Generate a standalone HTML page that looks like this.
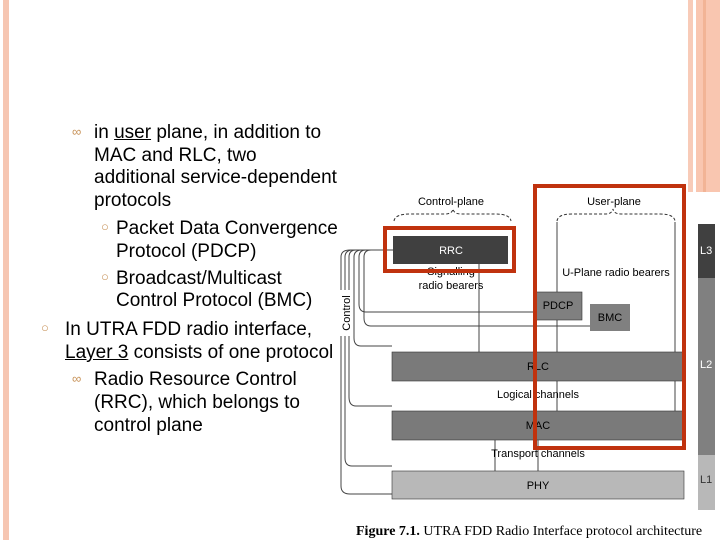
<!DOCTYPE html>
<html><head><style>
body{margin:0;width:720px;height:540px;background:#fff;position:relative;overflow:hidden;font-family:"Liberation Sans",Arial,sans-serif;}
.t{position:absolute;font-size:19px;color:#000;white-space:nowrap;line-height:23px;}
.b{position:absolute;color:#c8935a;font-size:13px;}
</style></head><body>
<div style="position:absolute;left:3px;top:0;width:6px;height:540px;background:#f6c6b2"></div>
<div style="position:absolute;left:688px;top:0;width:5px;height:192px;background:#f8cbb8"></div>
<div style="position:absolute;left:696px;top:0;width:24px;height:192px;background:#f9c6b0"></div>
<div style="position:absolute;left:703px;top:0;width:3px;height:192px;background:#f2b496"></div>

<div class="b" style="left:72px;top:124px">&#8734;</div>
<div class="t" style="left:94px;top:121px">in <u>user</u> plane, in addition to</div>
<div class="t" style="left:94px;top:144px">MAC and RLC, two</div>
<div class="t" style="left:94px;top:166px">additional service-dependent</div>
<div class="t" style="left:94px;top:189px">protocols</div>
<div class="b" style="left:101px;top:219px">&#9675;</div>
<div class="t" style="left:116px;top:217px">Packet Data Convergence</div>
<div class="t" style="left:116px;top:240px">Protocol (PDCP)</div>
<div class="b" style="left:101px;top:269px">&#9675;</div>
<div class="t" style="left:116px;top:267px">Broadcast/Multicast</div>
<div class="t" style="left:116px;top:289px">Control Protocol (BMC)</div>
<div class="b" style="left:41px;top:320px">&#9675;</div>
<div class="t" style="left:65px;top:318px">In UTRA FDD radio interface,</div>
<div class="t" style="left:65px;top:341px"><u>Layer 3</u> consists of one protocol</div>
<div class="b" style="left:72px;top:371px">&#8734;</div>
<div class="t" style="left:94px;top:368px">Radio Resource Control</div>
<div class="t" style="left:94px;top:391px">(RRC), which belongs to</div>
<div class="t" style="left:94px;top:414px">control plane</div>

<svg width="720" height="540" style="position:absolute;left:0;top:0" font-family="Liberation Sans,Arial,sans-serif">
<g fill="none" stroke="#333" stroke-width="1" stroke-dasharray="3,2">
<path d="M394 221 Q395 214 410 214 L445 214 Q452 214 453 209 Q454 214 461 214 L495 214 Q510 214 511 221"/>
<path d="M557 221 Q558 214 572 214 L605 214 Q612 214 613 209 Q614 214 621 214 L660 214 Q674 214 675 221"/>
</g>
<text x="451" y="205" font-size="11" text-anchor="middle">Control-plane</text>
<text x="614" y="205" font-size="11" text-anchor="middle">User-plane</text>
<g fill="none" stroke="#444" stroke-width="1">
<path d="M479 264 V352 M557 222 V292 M557 320 V352 M557 381 V411 M675 222 V352 M675 381 V411 M495 440 V471 M538 440 V471"/>
<path d="M393 250 H356 Q349 250 349 257 V397 Q349 406 356 406 H392"/>
<path d="M393 250 H362 Q354 250 354 257 V338 Q354 346 361 346 H392"/>
<path d="M393 250 H353 Q345 250 345 257 V458 Q345 466 352 466 H392"/>
<path d="M393 250 H366 Q359 250 359 257 V304 Q359 312 366 312 H535"/>
<path d="M393 250 H371 Q364 250 364 257 V318 Q364 326 371 326 H590"/>
<path d="M393 250 H350 Q341 250 341 257 V486 Q341 494 350 494 H392"/>
</g>
<rect x="339" y="290" width="12" height="46" fill="#fff"/>
<text transform="translate(350,313) rotate(-90)" font-size="11" text-anchor="middle">Control</text>
<rect x="393" y="236" width="115" height="28" fill="#404040"/>
<text x="451" y="254" font-size="11" fill="#fff" text-anchor="middle">RRC</text>
<text x="451" y="275" font-size="11" text-anchor="middle">Signalling</text>
<text x="451" y="289" font-size="11" text-anchor="middle">radio bearers</text>
<text x="616" y="276" font-size="11" text-anchor="middle">U-Plane radio bearers</text>
<rect x="535" y="292" width="47" height="28" fill="#808080" stroke="#333" stroke-width="0.6"/>
<text x="558" y="309" font-size="11" text-anchor="middle">PDCP</text>
<rect x="590" y="304" width="40" height="27" fill="#808080"/>
<text x="610" y="321" font-size="11" text-anchor="middle">BMC</text>
<rect x="392" y="352" width="291" height="29" fill="#7a7a7a" stroke="#333" stroke-width="0.6"/>
<text x="538" y="370" font-size="11" text-anchor="middle">RLC</text>
<text x="538" y="398" font-size="11" text-anchor="middle">Logical channels</text>
<rect x="392" y="411" width="291" height="29" fill="#7a7a7a" stroke="#333" stroke-width="0.6"/>
<text x="538" y="429" font-size="11" text-anchor="middle">MAC</text>
<text x="538" y="457" font-size="11" text-anchor="middle">Transport channels</text>
<rect x="392" y="471" width="292" height="28" fill="#b8b8b8" stroke="#333" stroke-width="0.6"/>
<text x="538" y="489" font-size="11" text-anchor="middle">PHY</text>
<rect x="698" y="224" width="17" height="54" fill="#404040"/>
<rect x="698" y="278" width="17" height="177" fill="#808080"/>
<rect x="698" y="455" width="17" height="55" fill="#b8b8b8"/>
<text x="700" y="254" font-size="11" fill="#fff">L3</text>
<text x="700" y="368" font-size="11" fill="#fff">L2</text>
<text x="700" y="483" font-size="11" fill="#333">L1</text>
<rect x="385" y="228" width="129" height="43" fill="none" stroke="#c0320e" stroke-width="4"/>
<rect x="535" y="186" width="149" height="262" fill="none" stroke="#c0320e" stroke-width="4"/>
<text x="356" y="535" font-size="14" font-family="Liberation Serif,serif"><tspan font-weight="bold">Figure 7.1.</tspan> UTRA FDD Radio Interface protocol architecture</text>
</svg>
</body></html>
